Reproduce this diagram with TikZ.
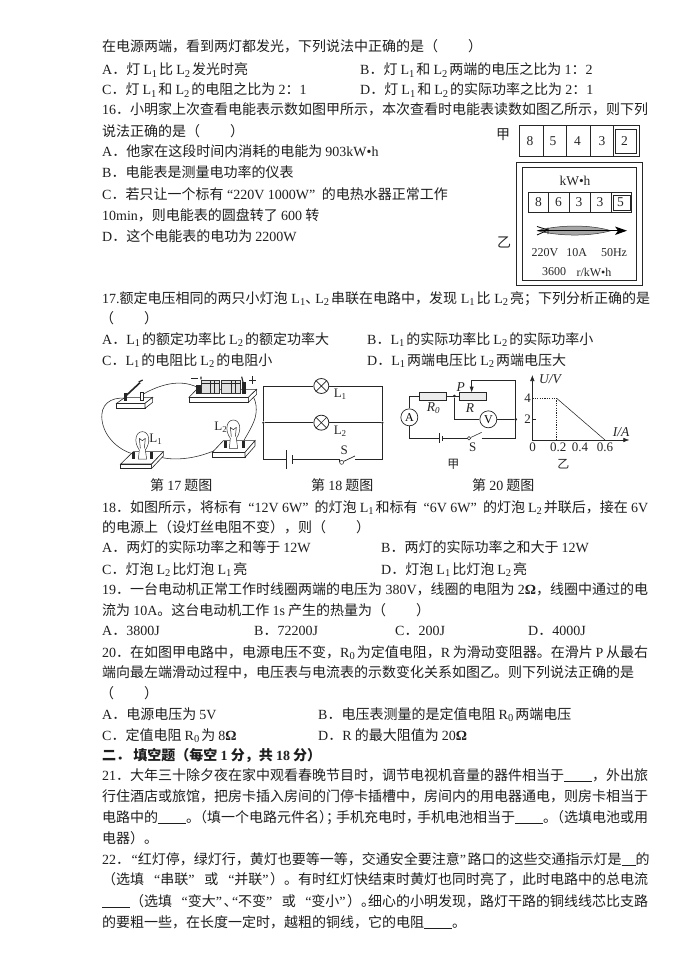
\documentclass[tikz,border=0pt]{standalone}
\usepackage{fontspec}
\usetikzlibrary{arrows.meta}
\setmainfont{Noto Sans CJK SC}
\newfontfamily\latinf{Liberation Serif}
\newcommand\E[1]{{\latinf #1}}
\newcommand\Lsub[1]{{\latinf L\raisebox{-2.2pt}{\fontsize{10.5}{10.5}\selectfont #1}}\hspace{2pt}}
\newcommand\Lo{\Lsub{1}}
\newcommand\Lt{\Lsub{2}}
\newcommand\Rz{{\latinf R\raisebox{-2pt}{\fontsize{10.5}{10.5}\selectfont 0}}\hspace{2pt}}
\newcommand\blankl[1]{\rule[-2pt]{#1pt}{0.7pt}}
\newcommand\qo{\hspace{1.5pt}{\latinf “}}
\newcommand\qc{{\latinf ”}\hspace{1.5pt}}
\newcommand\qf{\hspace{0pt plus 1fill}}
\newcommand\tight{\hspace{-7pt}}
\newcommand\TL[4]{\node[txt] (#1) at (#2,{#3+5}) {#4};}
\newcommand\FL[4]{\node[txt] (#1) at (102,{#2+5}) {\hbox to #3pt{#4}};}
\tikzset{
  txt/.style={inner sep=0pt,anchor=base west,text=black!88,font=\fontsize{14}{14}\selectfont},
  lab/.style={inner sep=0pt,text=black!85,font=\latinf\fontsize{13}{13}\selectfont},
  ilab/.style={inner sep=0pt,text=black!85,font=\latinf\itshape\fontsize{13.5}{13.5}\selectfont},
  small/.style={inner sep=0pt,text=black!85,font=\latinf\fontsize{12}{12}\selectfont},
  digit/.style={inner sep=0pt,text=black!85,font=\latinf\fontsize{13.5}{13.5}\selectfont},
  cjklab/.style={inner sep=0pt,text=black!85,font=\fontsize{14}{14}\selectfont},
  wire/.style={draw=black!85,line width=0.7pt},
  thin wire/.style={draw=black!85,line width=0.55pt},
  meter/.style={draw=black!85,line width=0.7pt},
  lampn/.style={circle,draw=black!85,line width=0.8pt,minimum size=15pt,inner sep=0pt},
  instr/.style={circle,draw=black!85,line width=0.7pt,minimum size=17pt,inner sep=0pt,font=\latinf\fontsize{12}{12}\selectfont},
  resist/.style={rectangle,draw=black!85,line width=0.6pt,fill=black!8,minimum width=27pt,minimum height=8pt,inner sep=0pt},
  dotn/.style={circle,fill=black!85,minimum size=3pt,inner sep=0pt},
  board/.style={draw=black!85,line width=0.6pt,fill=white},
  bulbg/.style={draw=black!80,line width=0.5pt,fill=white}
}
\begin{document}
\begin{tikzpicture}[x=1pt,y=-1pt]
\useasboundingbox[fill=white] (0,0) rectangle (688,971);
% ---------- text ----------
\TL{a1}{102}{47}{在电源两端，看到两灯都发光，下列说法中正确的是（\hspace{30pt}）}
\TL{a2}{102}{70}{\E{A}．灯 \Lo 比 \Lt 发光时亮}
\TL{a3}{360}{70}{\E{B}．灯 \Lo 和 \Lt 两端的电压之比为 \E{1}：\E{2}}
\TL{a4}{102}{90}{\E{C}．灯 \Lo 和 \Lt 的电阻之比为 \E{2}：\E{1}}
\TL{a5}{360}{90}{\E{D}．灯 \Lo 和 \Lt 的实际功率之比为 \E{2}：\E{1}}
\FL{b1}{110}{546}{\E{16}．小明家上次查看电能表示数如图甲所示，本次查看时电能表读数如图乙所示，则下列}
\TL{b2}{102}{131}{说法正确的是（\hspace{30pt}）}
\TL{b3}{102}{152}{\E{A}．他家在这段时间内消耗的电能为 \E{903kW•h}}
\TL{b4}{102}{172}{\E{B}．电能表是测量电功率的仪表}
\TL{b5}{102}{194}{\E{C}．若只让一个标有\hspace{2pt}\qo\E{220V 1000W}\qc\hspace{2pt} 的电热水器正常工作}
\TL{b6}{102}{215}{\E{10min}，则电能表的圆盘转了 \E{600} 转}
\TL{b7}{102}{236}{\E{D}．这个电能表的电功为 \E{2200W}}
\FL{c1}{298}{548}{\E{17.}额定电压相同的两只小灯泡 \Lo\hspace{-2pt}、\hspace{-4pt}\Lt 串联在电路中，发现 \Lo 比 \Lt 亮；下列分析正确的是}
\TL{c2}{100}{318}{（\hspace{30pt}）}
\TL{c3}{102}{339}{\E{A}．\Lo 的额定功率比 \Lt 的额定功率大}
\TL{c4}{367}{339}{\E{B}．\Lo 的实际功率比 \Lt 的实际功率小}
\TL{c5}{102}{360}{\E{C}．\Lo 的电阻比 \Lt 的电阻小}
\TL{c6}{367}{360}{\E{D}．\Lo 两端电压比 \Lt 两端电压大}
\TL{cap17}{150}{485}{第 \E{17} 题图}
\TL{cap18}{311}{485}{第 \E{18} 题图}
\TL{cap20}{472}{485}{第 \E{20} 题图}
\FL{d1}{507}{546}{\E{18}．如图所示，将标有\qf\qo\E{12V 6W}\qc\qf 的灯泡 \Lo 和标有\qf\qo\E{6V 6W}\qc\qf 的灯泡 \Lt 并联后，接在 \E{6V}}
\TL{d2}{102}{527}{的电源上（设灯丝电阻不变），则（\hspace{30pt}）}
\TL{d3}{102}{547}{\E{A}．两灯的实际功率之和等于 \E{12W}}
\TL{d4}{381}{547}{\E{B}．两灯的实际功率之和大于 \E{12W}}
\TL{d5}{102}{569}{\E{C}．灯泡 \Lt 比灯泡 \Lo 亮}
\TL{d6}{381}{569}{\E{D}．灯泡 \Lo 比灯泡 \Lt 亮}
\FL{e1}{589}{546}{\E{19}．一台电动机正常工作时线圈两端的电压为 \E{380V}，线圈的电阻为 \E{2\textbf{Ω}}，线圈中通过的电}
\TL{e2}{102}{610}{流为 \E{10A}。这台电动机工作 \E{1s} 产生的热量为（\hspace{30pt}）}
\TL{e3}{102}{630}{\E{A}．\E{3800J}}
\TL{e4}{254}{630}{\E{B}．\E{72200J}}
\TL{e5}{395}{630}{\E{C}．\E{200J}}
\TL{e6}{528}{630}{\E{D}．\E{4000J}}
\FL{f1}{652}{546}{\E{20}．在如图甲电路中，电源电压不变，\Rz 为定值电阻，\E{R} 为滑动变阻器。在滑片 \E{P} 从最右}
\FL{f2}{672}{546}{端向最左端滑动过程中，电压表与电流表的示数变化关系如图乙。则下列说法正确的是}
\TL{f3}{100}{693}{（\hspace{30pt}）}
\TL{f4}{102}{714}{\E{A}．电源电压为 \E{5V}}
\TL{f5}{318}{714}{\E{B}．电压表测量的是定值电阻 \Rz 两端电压}
\TL{f6}{102}{735}{\E{C}．定值电阻 \Rz 为 \E{8\textbf{Ω}}}
\TL{f7}{318}{735}{\E{D}．\E{R} 的最大阻值为 \E{20\textbf{Ω}}}
\TL{g0}{102}{755}{\bfseries 二． 填空题（每空 \E{\textbf{1}} 分，共 \E{\textbf{18}} 分）}
\FL{g1}{775}{546}{\E{21}．大年三十除夕夜在家中观看春晚节目时，调节电视机音量的器件相当于\blankl{28}，外出旅}
\FL{g2}{796}{546}{行住酒店或旅馆，把房卡插入房间的门停卡插槽中，房间内的用电器通电，则房卡相当于}
\FL{g3}{817}{546}{电路中的\blankl{28}。\tight（填一个电路元件名）\tight；\hspace{-4pt}手机充电时，\hspace{-3pt}手机电池相当于\blankl{28}。\tight（选填电池或用}
\TL{g4}{102}{838}{电器）。}
\FL{h1}{859}{546}{\E{22}．\qo 红灯停，绿灯行，黄灯也要等一等，交通安全要注意\qc\qf 路口的这些交通指示灯是\blankl{14}的}
\FL{h2}{879}{546}{（选填\qf\qo 串联\qc\qf 或\qf\qo 并联\qc）。有时红灯快结束时黄灯也同时亮了，此时电路中的总电流}
\FL{h3}{901}{546}{\blankl{28}（选填\qf\qo 变大\qc、\tight\qo 不变\qc\qf 或\qf\qo 变小\qc）。\tight 细心的小明发现，路灯干路的铜线线芯比支路}
\TL{h4}{102}{922}{的要粗一些，在长度一定时，越粗的铜线，它的电阻\blankl{28}。}
% ---------- meter jia ----------
\node[cjklab] (jia) at (503,135) {甲};
\node[cjklab] (yi) at (504,242) {乙};
\draw[meter] (519.3,125.7) rectangle (639.3,156.3);
\foreach \x in {543.3,566.3,590,613.3} \draw[meter] (\x,125.7) -- (\x,156.3);
\draw[meter] (615.7,129) rectangle (636.7,153.3);
\foreach \n/\d/\x in {j1/8/530,j2/5/553,j3/4/577.5,j4/3/602,j5/2/624.5}
  \node[digit] (\n) at (\x,141) {\d};
% ---------- meter yi ----------
\draw[meter] (516.7,162.3) rectangle (642.7,285.7);
\draw[meter] (522.3,167.7) rectangle (636.7,280.3);
\node[digit] (kwh) at (575,181) {kW•h};
\draw[meter] (528.7,192.3) rectangle (631.7,212.3);
\foreach \x in {548.3,569.3,590,611} \draw[meter] (\x,192.3) -- (\x,212.3);
\draw[meter] (613.3,195) rectangle (630,210);
\foreach \n/\d/\x in {y1/8/538.5,y2/6/558.5,y3/3/579,y4/3/600,y5/5/620.5}
  \node[digit] (\n) at (\x,202.3) {\d};
\draw[black!80,line width=0.5pt,fill=black!35] (537,230.7) .. controls (560,224.5) and (590,224.5) .. (611,230.7) .. controls (590,236.5) and (560,236.5) .. (537,230.7);
\draw[black,line width=1pt] (538,230.7) -- (621,230.7);
\fill[black] (627,230.7) -- (615,226.5) -- (618,230.7) -- (615,235) -- cycle;
\draw[black,line width=0.8pt] (537,226.5) -- (548,230) -- (537,235) (548,227.5) -- (548,234);
\node[small] (m1) at (545,253) {220V};
\node[small] (m2) at (576.7,253) {10A};
\node[small] (m3) at (614,253) {50Hz};
\node[small] (m4) at (554,272) {3600};
\node[small] (m5) at (594,272) {r/kW•h};
% ---------- fig 17 ----------
\begin{scope}[shift={(90,370)},x=0.33333pt,y=-0.33333pt]
  % wires
  \coordinate (sw1) at (107,85); \coordinate (sw2) at (155,75);
  \coordinate (batl) at (322,52); \coordinate (batr) at (468,62);
  \coordinate (l1a) at (130,252); \coordinate (l1b) at (188,252);
  \coordinate (l2a) at (407,225); \coordinate (l2b) at (460,215);
  \draw[thin wire] (sw1) .. controls (60,80) and (30,105) .. (36,150) .. controls (42,200) and (85,240) .. (l1a);
  \draw[thin wire] (sw2) .. controls (205,45) and (270,25) .. (batl);
  \draw[thin wire] (batr) .. controls (495,70) and (505,110) .. (495,145) .. controls (485,175) and (470,195) .. (l2b);
  \draw[thin wire] (l1b) .. controls (225,275) and (320,275) .. (l2a);
  % switch
  \draw[board] (80,100) -- (105,82) -- (188,82) -- (165,100) -- cycle;
  \draw[board] (80,100) rectangle (165,115);
  \draw[board] (165,115) -- (188,97) -- (188,82) -- (165,100) -- cycle;
  \fill[black!85] (102,70) rectangle (112,92);
  \draw[board] (151,68) rectangle (160,90);
  \draw[black!85,line width=1.6pt] (107,78) -- (150,38);
  \draw[black!85,line width=1.2pt] (146,36) -- (158,30);
  % battery box
  \draw[board] (297,82) -- (320,58) -- (500,58) -- (475,82) -- cycle;
  \draw[board] (297,82) rectangle (475,97);
  \draw[board] (475,97) -- (500,73) -- (500,58) -- (475,82) -- cycle;
  \fill[black!85] (318,45) rectangle (332,72);
  \draw[bulbg,fill=black!12] (335,32) rectangle (388,70);
  \draw[bulbg,fill=black!12] (395,32) rectangle (452,70);
  \draw[black!85,line width=0.7pt] (362,32) -- (362,70) (372,32) -- (372,70) (425,32) -- (425,70) (435,32) -- (435,70) (335,40) -- (388,40) (395,40) -- (452,40);
  \fill[black!85] (456,36) rectangle (468,72);
  \draw[black!85,line width=1.1pt] (333,20) -- (333,28) (455,20) -- (467,68);
  \draw[black!85,line width=0.8pt] (304,26) -- (325,26) (477,30) -- (499,30) (488,18) -- (488,42);
  % L1
  \draw[board] (92,282) -- (130,245) -- (220,245) -- (185,282) -- cycle;
  \draw[board] (92,282) rectangle (185,295);
  \draw[board] (185,295) -- (220,258) -- (220,245) -- (185,282) -- cycle;
  \fill[black!85] (127,245) rectangle (135,268);
  \fill[black!85] (181,245) rectangle (189,268);
  \draw[bulbg] (145,267) -- (148,240) .. controls (130,215) and (137,185) .. (157,185) .. controls (177,185) and (184,215) .. (166,240) -- (170,267) -- cycle;
  \draw[black!85,line width=0.5pt] (148,205) -- (151,235) (166,205) -- (163,235) (148,205) -- (157,212) -- (166,205);
  \node[lab] (nl1) at (197,207) {L\raisebox{-2pt}{\fontsize{9}{9}\selectfont 1}};
  % L2
  \draw[board] (367,247) -- (400,212) -- (495,212) -- (465,247) -- cycle;
  \draw[board] (367,247) rectangle (465,262);
  \draw[board] (465,262) -- (495,228) -- (495,212) -- (465,247) -- cycle;
  \fill[black!85] (403,212) rectangle (411,235);
  \fill[black!85] (456,212) rectangle (464,235);
  \draw[bulbg] (418,235) -- (421,205) .. controls (403,180) and (410,150) .. (430,150) .. controls (450,150) and (457,180) .. (439,205) -- (443,235) -- cycle;
  \draw[black!85,line width=0.5pt] (421,172) -- (424,200) (439,172) -- (436,200) (421,172) -- (430,179) -- (439,172);
  \node[lab] (nl2) at (392,172) {L\raisebox{-2pt}{\fontsize{9}{9}\selectfont 2}};
  % ---------- fig 18 ----------
  \node[lampn] (k1) at (694,48) {};
  \node[lampn] (k2) at (694,158) {};
  \draw[black!85,line width=0.6pt] (k1.45) -- (k1.225) (k1.135) -- (k1.315) (k2.45) -- (k2.225) (k2.135) -- (k2.315);
  \node[dotn,minimum size=2.5pt] (kl) at (520,158) {};
  \node[dotn,minimum size=2.5pt] (kr) at (877,158) {};
  \coordinate (ktl) at (520,45); \coordinate (ktr) at (877,45);
  \coordinate (kbl) at (520,268); \coordinate (kbr) at (877,268);
  \coordinate (bp1) at (590,268); \coordinate (bp2) at (608,268);
  \node[circle,draw=black!85,line width=0.5pt,minimum size=4pt,inner sep=0pt] (swc) at (755,277) {};
  \coordinate (swr) at (795,268); \coordinate (swt) at (795,258);
  \draw[wire] (k1) -- (ktl |- k1) -- (kl) -- (kbl) -- (bp1);
  \draw[wire] (k1) -- (ktr |- k1) -- (kr) -- (kbr) -- (swr);
  \draw[wire,line width=1pt] (kl) -- (k2) (k2) -- (kr);
  \draw[wire] (bp2) -- (swc.west |- bp2) -- (swc.west);
  \draw[wire] (swc) -- (swt);
  \draw[wire] (590,240) -- (590,298);
  \draw[wire] (608,255) -- (608,282);
  \node[lab] (k1l) at (750,72) {L\raisebox{-2pt}{\fontsize{9}{9}\selectfont 1}};
  \node[lab] (k2l) at (750,183) {L\raisebox{-2pt}{\fontsize{9}{9}\selectfont 2}};
  \node[lab] (ks) at (763,242) {S};
\end{scope}
% ---------- fig 20 ----------
\begin{scope}[shift={(390,370)},x=0.33333pt,y=-0.33333pt]
  \node[instr] (A) at (58,142) {A};
  \node[instr] (V) at (295,148) {V};
  \node[resist,minimum width=27pt] (R0) at (129,80) {};
  \node[resist,minimum width=27pt] (R) at (249,80) {};
  \node[dotn] (d1) at (193,78) {};
  \node[dotn] (d2) at (377,148) {};
  \coordinate (c1) at (58,80); \coordinate (c2) at (58,205); \coordinate (c3) at (193,148);
  \coordinate (c4) at (377,205); \coordinate (c5) at (377,30); \coordinate (c6) at (245,30); \coordinate (c7) at (245,66);
  \coordinate (b1) at (147,205); \coordinate (b2) at (158,205);
  \node[circle,draw=black!85,line width=0.5pt,minimum size=3.5pt,inner sep=0pt] (s1) at (237,205) {};
  \coordinate (s2) at (275,187); \coordinate (s3) at (275,205);
  \draw[thin wire] (A) -- (c1) -- (R0);
  \draw[thin wire] (R0) -- (R);
  \draw[thin wire] (A) -- (c2) -- (b1);
  \draw[thin wire] (b2) -- (s1);
  \draw[thin wire] (s1) -- (s2);
  \draw[thin wire] (s3) -- (c4) -- (c5) -- (c6) -- (245,52);
  \fill[black!85] (c7) -- (239,50) -- (251,50) -- cycle;
  \draw[thin wire] (d1) -- (c3) -- (V);
  \draw[thin wire] (V) -- (d2);
  \draw[wire] (147,190) -- (147,220);
  \draw[wire] (158,198) -- (158,212);
  \node[ilab] (lp) at (212,50) {P};
  \node[ilab] (lr0) at (130,115) {R\raisebox{-2pt}{\fontsize{9}{9}\selectfont 0}};
  \node[ilab] (lr) at (240,115) {R};
  \node[lab] (ls) at (248,232) {S};
  \node[inner sep=0pt,text=black!85,font=\fontsize{12}{12}\selectfont] (lj) at (190,282) {甲};
  \node[inner sep=0pt,text=black!85,font=\fontsize{12}{12}\selectfont] (ly) at (520,282) {乙};
  % graph
  \coordinate (O) at (427,210); \coordinate (yt) at (427,15); \coordinate (xt) at (718,210);
  \coordinate (p4) at (427,85); \coordinate (q) at (500,85); \coordinate (q0) at (500,210); \coordinate (e) at (645,210);
  \draw[thin wire,-{Latex[length=6pt,width=4.5pt]}] (O) -- (yt);
  \draw[thin wire,-{Latex[length=6pt,width=4.5pt]}] (O) -- (xt);
  \draw[thin wire,dash pattern=on 1.2pt off 1.2pt] (p4) -- (q) -- (q0);
  \draw[thin wire] (q) -- (e);
  \draw[thin wire] (427,148) -- (437,148);
  \node[ilab] (lu) at (480,28) {U/V};
  \node[ilab] (li) at (693,185) {I/A};
  \node[lab] (g4) at (413,85) {4};
  \node[lab] (g2) at (413,148) {2};
  \node[lab] (g0) at (428,232) {0};
  \node[lab] (g02) at (505,232) {0.2};
  \node[lab] (g04) at (570,232) {0.4};
  \node[lab] (g06) at (645,232) {0.6};
\end{scope}
\end{tikzpicture}
\end{document}
